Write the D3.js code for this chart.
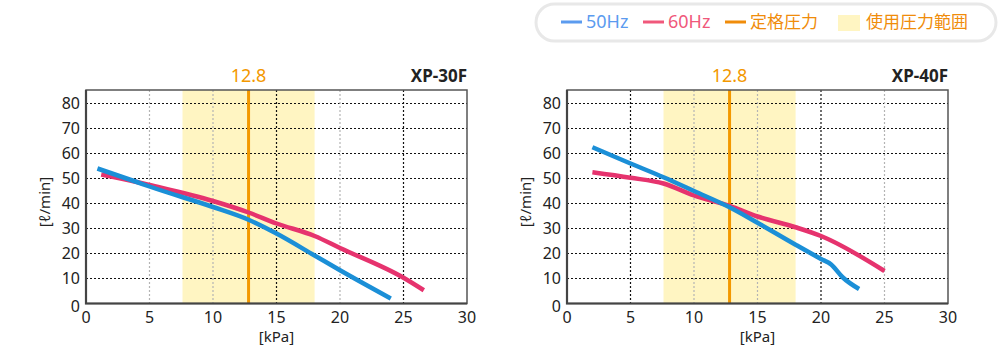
<!DOCTYPE html>
<html>
<head>
<meta charset="utf-8">
<script src="https://cdn.jsdelivr.net/npm/d3@7"></script>
<style>
  body { margin: 0; background: #fff; }
  svg { display: block; font-family: "Noto Sans", "Noto Sans CJK JP", sans-serif; }
</style>
</head>
<body>
<div id="chart"></div>
<script>
// data
let xTicks = [0, 5, 10, 15, 20, 25, 30];
let yTicks = [0, 10, 20, 30, 40, 50, 60, 70, 80];
let ratedPressure = 12.8;
let bandRange = [7.6, 18];

let xp30_50Hz = [[0.9, 54], [4, 48.6], [5, 46.8], [10, 38.6], [12.8, 33.5], [15, 28], [18, 19.2], [20, 13.3], [24, 2]];
let xp30_60Hz = [[1.2, 51.6], [4, 48.6], [5, 47.4], [10, 41], [12.8, 36.4], [15, 32], [18, 27], [20, 22.2], [25, 10.3], [26.6, 5.3]];
let xp40_50Hz = [[2, 62.5], [5, 56], [7.6, 50.5], [10, 45], [12.8, 38.5], [15, 32.3], [18, 23.5], [20, 17.8], [20.8, 15.6], [21.7, 10.5], [23, 5.8]];
let xp40_60Hz = [[2, 52.5], [5, 50.3], [7.6, 48], [10, 43.2], [12.8, 39], [15, 34.8], [18, 30.5], [20, 27], [25, 13]];

// which vertical grid lines are dark (the rest are light gray)
let xp30_darkX = [15, 25];
let xp40_darkX = [5, 20];

let legendItems = [
    {label: "50Hz", color: "#5b9bef", kind: "line"},
    {label: "60Hz", color: "#f0587b", kind: "line"},
    {label: "定格圧力", color: "#f08c0a", kind: "line"},
    {label: "使用圧力範囲", color: "#f08c0a", kind: "box"}
];

let colors = {blue: "#1b8fd7", pink: "#e6336e", orange: "#f39800", band: "#fff5c2"};

let svg = d3.select("#chart").append("svg")
    .attr("width", 1000).attr("height", 348);

// ---- legend ----
let legend = svg.append("g");
legend.append("rect")
    .attr("x", 536).attr("y", 4).attr("width", 460).attr("height", 37)
    .attr("rx", 18.5).attr("fill", "#fff")
    .attr("stroke", "#e8e8e8").attr("stroke-width", 3);

let legendX = [561, 643, 725, 838];
legendItems.forEach(function(d, i) {
    let x = legendX[i];
    if (d.kind == "line") {
        legend.append("line")
            .attr("x1", x).attr("x2", x + 21).attr("y1", 22).attr("y2", 22)
            .attr("stroke", d.color).attr("stroke-width", 3);
    } else {
        legend.append("rect")
            .attr("x", x).attr("y", 15).attr("width", 22).attr("height", 16)
            .attr("fill", colors.band);
    }
    legend.append("text")
        .attr("x", x + (d.kind == "line" ? 25 : 28)).attr("y", 28)
        .attr("fill", d.color).attr("font-size", d.kind == "line" && i < 2 ? 18 : 17)
        .text(d.label);
});

// ---- one chart panel ----
let drawPanel = function(left, title, s50, s60, darkX) {
    let top = 90, bottom = 303.5, right = left + 381;

    let x = d3.scaleLinear().domain([0, 30]).range([left, right]);
    let y = d3.scaleLinear().domain([0, 85.4]).range([bottom, top]);

    let g = svg.append("g");

    // operating band
    g.append("rect")
        .attr("x", x(bandRange[0])).attr("y", top)
        .attr("width", x(bandRange[1]) - x(bandRange[0]))
        .attr("height", bottom - top)
        .attr("fill", colors.band);

    // horizontal grid
    g.selectAll(".hgrid").data(yTicks.filter(function(d) { return d > 0; }))
        .enter().append("line")
        .attr("x1", left).attr("x2", right)
        .attr("y1", function(d) { return y(d); }).attr("y2", function(d) { return y(d); })
        .attr("stroke", "#111").attr("stroke-width", 1.2)
        .attr("stroke-dasharray", "2,2");

    // vertical grid
    g.selectAll(".vgrid").data(xTicks.filter(function(d) { return d > 0 && d < 30; }))
        .enter().append("line")
        .attr("x1", function(d) { return x(d); }).attr("x2", function(d) { return x(d); })
        .attr("y1", top).attr("y2", bottom)
        .attr("stroke", function(d) { return darkX.indexOf(d) >= 0 ? "#111" : "#b4b4b4"; })
        .attr("stroke-width", 1.2)
        .attr("stroke-dasharray", "2,2");

    // rated pressure line
    g.append("line")
        .attr("x1", x(ratedPressure)).attr("x2", x(ratedPressure))
        .attr("y1", top).attr("y2", bottom)
        .attr("stroke", colors.orange).attr("stroke-width", 3);

    let line = d3.line()
        .x(function(d) { return x(d[0]); })
        .y(function(d) { return y(d[1]); })
        .curve(d3.curveMonotoneX);

    g.append("path").datum(s60)
        .attr("d", line).attr("fill", "none")
        .attr("stroke", colors.pink).attr("stroke-width", 4.5)
        .attr("stroke-linejoin", "round");

    g.append("path").datum(s50)
        .attr("d", line).attr("fill", "none")
        .attr("stroke", colors.blue).attr("stroke-width", 4.5)
        .attr("stroke-linejoin", "round");

    // frame
    g.append("rect")
        .attr("x", left).attr("y", top)
        .attr("width", right - left).attr("height", bottom - top)
        .attr("fill", "none").attr("stroke", "#555").attr("stroke-width", 1.5);
    g.append("path")
        .attr("d", "M" + left + "," + top + "V" + bottom + "H" + right)
        .attr("fill", "none").attr("stroke", "#444").attr("stroke-width", 2.2);

    // tick labels
    g.selectAll(".ylab").data(yTicks).enter().append("text")
        .attr("x", left - 6)
        .attr("y", function(d) { return y(d) + (d == 0 ? 8 : 5.5); })
        .attr("text-anchor", "end").attr("font-size", 16).attr("fill", "#222")
        .text(function(d) { return d; });

    g.selectAll(".xlab").data(xTicks).enter().append("text")
        .attr("x", function(d) { return x(d); }).attr("y", 323)
        .attr("text-anchor", "middle").attr("font-size", 16).attr("fill", "#222")
        .text(function(d) { return d; });

    // axis titles
    g.append("text")
        .attr("transform", "translate(" + (left - 36) + "," + 202 + ") rotate(-90)")
        .attr("text-anchor", "middle").attr("font-size", 15).attr("fill", "#222")
        .text("[ℓ/min]");
    g.append("text")
        .attr("x", (left + right) / 2).attr("y", 342)
        .attr("text-anchor", "middle").attr("font-size", 15).attr("fill", "#222")
        .text("[kPa]");

    // header labels
    g.append("text")
        .attr("x", x(ratedPressure)).attr("y", 81.5)
        .attr("text-anchor", "middle").attr("font-size", 18).attr("fill", colors.orange)
        .text(ratedPressure);
    g.append("text")
        .attr("x", right).attr("y", 81.5)
        .attr("text-anchor", "end").attr("font-size", 17).attr("font-weight", "bold")
        .attr("fill", "#222")
        .text(title);
};

drawPanel(86, "XP-30F", xp30_50Hz, xp30_60Hz, xp30_darkX);
drawPanel(567, "XP-40F", xp40_50Hz, xp40_60Hz, xp40_darkX);
</script>
</body>
</html>
